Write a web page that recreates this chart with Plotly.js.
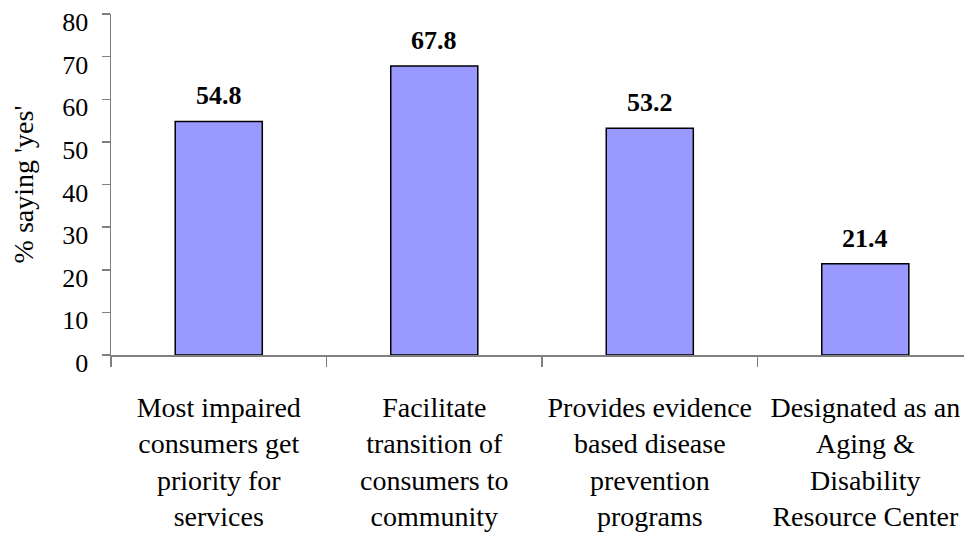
<!DOCTYPE html>
<html>
<head>
<meta charset="utf-8">
<script src="https://cdn.plot.ly/plotly-3.0.1.min.js"></script>
<style>html,body{margin:0;padding:0;background:#fff;}#chart{width:964px;height:537px;}</style>
</head>
<body>
<div id="chart"></div>
<script>
const categories = [
  "Most impaired<br>consumers get<br>priority for<br>services",
  "Facilitate<br>transition of<br>consumers to<br>community",
  "Provides evidence<br>based disease<br>prevention<br>programs",
  "Designated as an<br>Aging &<br>Disability<br>Resource Center"
];
const values = [54.8, 67.8, 53.2, 21.4];
const valueLabels = values.map(v => v.toFixed(1));
const yTicks = [0, 10, 20, 30, 40, 50, 60, 70, 80];
const xPos = [0, 1, 2, 3];

const FONT = "Liberation Serif, Times New Roman, Times, serif";

const trace = {
  type: "bar",
  x: xPos,
  y: values,
  width: 0.404,
  marker: {color: "#9999FF", line: {color: "#000000", width: 1.5}},
  hoverinfo: "none"
};

const annotations = values.map((v, i) => ({
  x: xPos[i], y: v, xref: "x", yref: "y",
  text: "<b>" + valueLabels[i] + "</b>",
  showarrow: false, yanchor: "bottom", yshift: 9,
  font: {family: FONT, size: 26, color: "#000"}
}));

const layout = {
  width: 964, height: 537,
  margin: {l: 111, r: 0, t: 14, b: 182},
  paper_bgcolor: "#fff", plot_bgcolor: "#fff",
  showlegend: false,
  font: {family: FONT, color: "#000"},
  bargap: 0,
  annotations: annotations,
  xaxis: {
    type: "linear",
    range: [-0.5, 3.458],
    tickmode: "array",
    tickvals: xPos,
    ticktext: categories,
    ticks: "",
    showgrid: false, zeroline: false,
    showline: false,
    tickfont: {family: FONT, size: 28, color: "#000"},
    ticklabelstandoff: 33
  },
  xaxis2: {
    overlaying: "x", matches: "x",
    range: [-0.5, 3.458],
    tickmode: "array",
    tickvals: [-0.5, 0.5, 1.5, 2.5, 3.5],
    ticktext: ["", "", "", "", ""],
    ticks: "outside", ticklen: 10, tickwidth: 1.5, tickcolor: "#808080",
    showline: true, linecolor: "#808080", linewidth: 1.5,
    showgrid: false, zeroline: false,
    anchor: "y"
  },
  yaxis: {
    range: [0, 80],
    tickmode: "array",
    tickvals: yTicks,
    ticktext: yTicks.map(String),
    ticks: "outside", ticklen: 8, tickwidth: 1.5, tickcolor: "#808080",
    showline: true, linecolor: "#808080", linewidth: 1.5,
    showgrid: false, zeroline: false,
    tickfont: {family: FONT, size: 26, color: "#000"},
    ticklabelstandoff: 8,
    ticklabelshift: 8,
    ticklabeloverflow: "allow",
    title: {text: "% saying 'yes'", font: {family: FONT, size: 28, color: "#000"}, standoff: 20}
  }
};

const dummy = {type: "scatter", x: [0], y: [0], xaxis: "x2", mode: "markers", marker: {opacity: 0}, hoverinfo: "none"};

Plotly.newPlot("chart", [trace, dummy], layout, {displayModeBar: false, staticPlot: true});
</script>
</body>
</html>
